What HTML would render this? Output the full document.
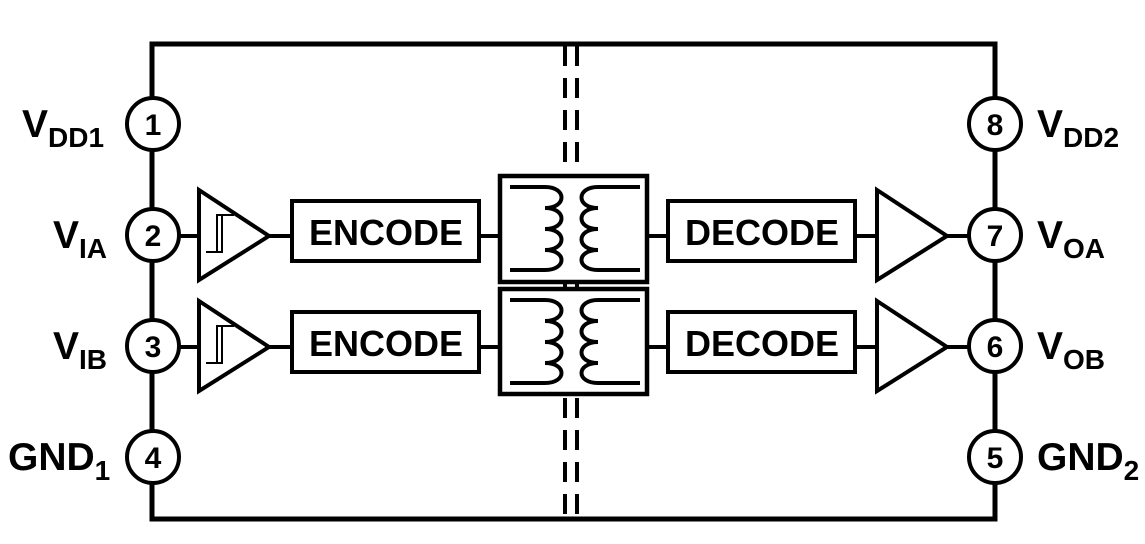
<!DOCTYPE html>
<html><head><meta charset="utf-8"><style>
html,body{margin:0;padding:0;background:#fff;}
svg{display:block;}
text{font-family:"Liberation Sans",Arial,sans-serif;font-weight:bold;fill:#000;}
</style></head><body>
<svg width="1145" height="544" viewBox="0 0 1145 544" xmlns="http://www.w3.org/2000/svg">
<g fill="none" stroke="#000" stroke-width="5">
<rect x="152" y="44" width="843" height="475"/>
</g>
<g stroke="#000" stroke-width="4" stroke-dasharray="20 12">
<line x1="565" y1="46" x2="565" y2="517"/>
<line x1="577" y1="46" x2="577" y2="517"/>
</g>
<g fill="#fff" stroke="#000" stroke-width="4.5">
<rect x="500" y="176" width="147" height="106"/>
<rect x="500" y="289" width="147" height="105"/>
</g>
<defs>
<g id="coils" fill="none" stroke="#000" stroke-width="4">
<path d="M510,187 H545 C567,187 567,208 545,208 C567,208 567,229 545,229 C567,229 567,250 545,250 C567,250 567,270 545,270 H510"/>
<path d="M640,187 H598 C576,187 576,208 598,208 C576,208 576,229 598,229 C576,229 576,250 598,250 C576,250 576,270 598,270 H640"/>
</g>
<g id="row">
<g fill="#fff" stroke="#000" stroke-width="4">
<line x1="178" y1="236" x2="199" y2="236"/>
<polygon points="199,190 269,236 199,280"/>
<line x1="269" y1="236" x2="292" y2="236"/>
<rect x="292" y="201" width="187" height="60"/>
<line x1="479" y1="236" x2="500" y2="236"/>
<line x1="647" y1="236" x2="668" y2="236"/>
<rect x="668" y="201" width="187" height="60"/>
<line x1="855" y1="236" x2="877" y2="236"/>
<polygon points="877,190 947,236 877,280"/>
<line x1="947" y1="236" x2="970" y2="236"/>
</g>
<g fill="none" stroke="#000" stroke-width="2">
<path d="M206,252 H222 V215 M217,252 V215 H234"/>
</g>
<text x="386" y="245" font-size="36" text-anchor="middle">ENCODE</text>
<text x="762" y="245" font-size="36" text-anchor="middle">DECODE</text>
</g>
</defs>
<use href="#coils"/>
<use href="#coils" y="113"/>
<use href="#row"/>
<use href="#row" y="111"/>
<g fill="#fff" stroke="#000" stroke-width="4">
<circle cx="153" cy="124" r="26"/>
<circle cx="153" cy="235" r="26"/>
<circle cx="153" cy="346" r="26"/>
<circle cx="153" cy="457" r="26"/>
<circle cx="995" cy="124" r="26"/>
<circle cx="995" cy="235" r="26"/>
<circle cx="995" cy="346" r="26"/>
<circle cx="995" cy="457" r="26"/>
</g>
<g font-size="30" text-anchor="middle">
<text x="153" y="135">1</text><text x="153" y="246">2</text><text x="153" y="357">3</text><text x="153" y="468">4</text>
<text x="995" y="135">8</text><text x="995" y="246">7</text><text x="995" y="357">6</text><text x="995" y="468">5</text>
</g>
<g font-size="39">
<text x="22" y="137">V<tspan font-size="28" dy="10">DD1</tspan></text>
<text x="53" y="248">V<tspan font-size="28" dy="10">IA</tspan></text>
<text x="53" y="359">V<tspan font-size="28" dy="10">IB</tspan></text>
<text x="8" y="470">GND<tspan font-size="28" dy="10">1</tspan></text>
<text x="1037" y="137">V<tspan font-size="28" dy="10">DD2</tspan></text>
<text x="1037" y="248">V<tspan font-size="28" dy="10">OA</tspan></text>
<text x="1037" y="359">V<tspan font-size="28" dy="10">OB</tspan></text>
<text x="1037" y="470">GND<tspan font-size="28" dy="10">2</tspan></text>
</g>
</svg>
</body></html>
